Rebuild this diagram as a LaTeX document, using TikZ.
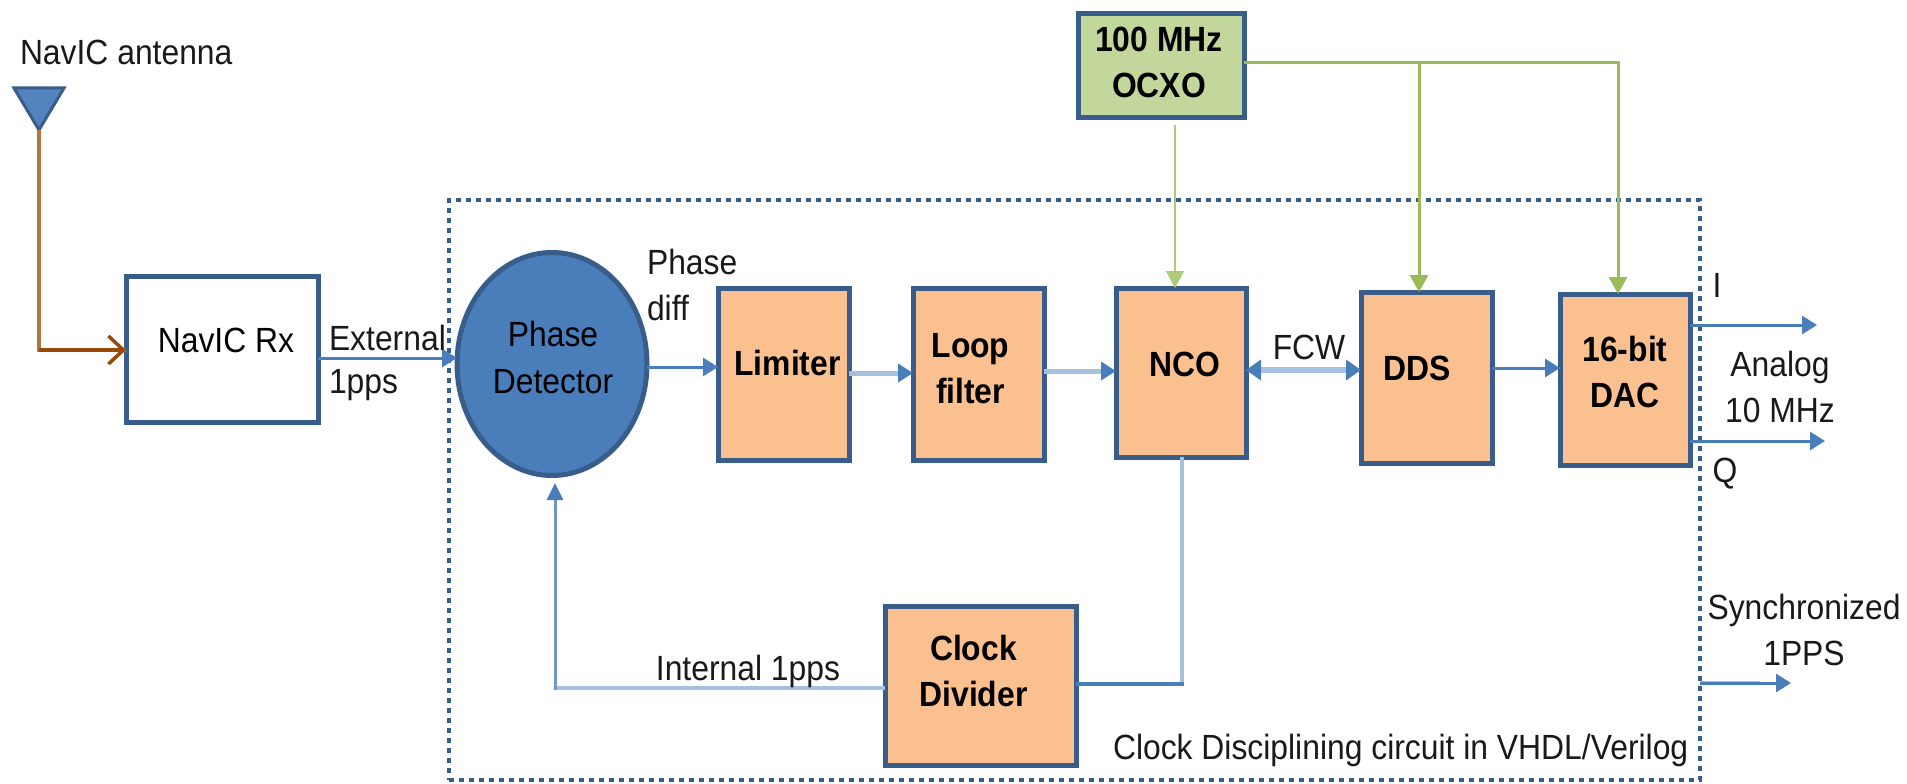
\documentclass[tikz,border=0pt]{standalone}
\usepackage{fontspec}
\setmainfont[FakeStretch=0.91]{Liberation Sans}
\usetikzlibrary{arrows.meta,shapes.geometric,positioning}
\definecolor{dk}{HTML}{385D8A}
\definecolor{mid}{HTML}{4A7EBB}
\definecolor{lt}{HTML}{A7C0DE}
\definecolor{org}{HTML}{FAC090}
\definecolor{grn}{HTML}{C3D69B}
\definecolor{gline}{HTML}{9BBB59}
\definecolor{brn}{HTML}{984807}
\tikzset{x=1pt,y=-1pt,outer sep=0pt,
 lbl/.style={font=\fontsize{35}{46}\selectfont,align=center,inner sep=0pt,text=black!90},
 blk/.style={draw=dk,line width=5pt,fill=org,font=\fontsize{35}{46}\selectfont\bfseries,inner sep=0pt},
 bl/.style={draw=mid,line width=3pt,-{Triangle[length=15pt,width=18pt]}},
 lb/.style={draw=lt,line width=5pt,-{Triangle[length=15pt,width=18pt,fill=mid,color=mid]}},
 gr/.style={draw=gline,line width=3pt,-{Triangle[length=17pt,width=18pt]}},
}
% text shifted by (dx right, dy up) from the centre of its node
\newcommand{\tx}[3]{\raisebox{\dimexpr#2-9pt\relax}[0pt][0pt]{\makebox[0pt][c]{\hspace*{#1}\hspace*{#1}\begin{tabular}{@{}c@{}}#3\end{tabular}}}}
\newcommand{\boxat}[6]{\node[#2,minimum width=#5-#3,minimum height=#6-#4,anchor=north west] (#1) at (#3,#4) }
\begin{document}
\begin{tikzpicture}
\useasboundingbox (0,0) rectangle (1907,784);
% dotted frame
\node[draw=dk,line width=3.5pt,dash pattern=on 5pt off 5pt,minimum width=1251pt,minimum height=580pt,anchor=north west,inner sep=0pt] (frame) at (449,200) {};
% antenna
\node[draw=dk,fill=mid!95!white,line width=3pt,isosceles triangle,shape border rotate=-90,isosceles triangle stretches,minimum width=50pt,minimum height=42pt,inner sep=0pt,anchor=apex] (ant) at (39,130) {};
\node[lbl,anchor=west] (antl) at (20,52) {NavIC antenna};
% blocks
\boxat{rx}{draw=dk,line width=5pt,fill=white,font=\fontsize{35}{46}\selectfont,inner sep=0pt}{126}{276}{318}{422}{\tx{4pt}{8pt}{NavIC Rx}};
\node[ellipse,draw=dk,fill=mid,line width=5pt,minimum width=190pt,minimum height=223pt,inner sep=0pt,font=\fontsize{35}{47}\selectfont] (pd) at (552,364) {\tx{1pt}{6pt}{Phase\\Detector}};
\boxat{lim}{blk}{718}{288}{849}{460}{\tx{4pt}{10pt}{Limiter}};
\boxat{loop}{blk}{913}{288}{1044}{460}{\tx{-8pt}{5pt}{Loop\\filter}};
\boxat{nco}{blk}{1116}{288}{1246}{457}{\tx{4pt}{8pt}{NCO}};
\boxat{dds}{blk}{1361}{292}{1492}{463}{\tx{-9pt}{9pt}{DDS}};
\boxat{dac}{blk}{1560}{294}{1690}{465}{\tx{0pt}{7pt}{16-bit\\DAC}};
\boxat{div}{blk}{885}{606}{1076}{765}{\tx{-7pt}{14pt}{Clock\\Divider}};
\boxat{ocxo}{blk,fill=grn}{1078}{14}{1244}{117}{\tx{-2pt}{3pt}{100 MHz\\OCXO}};
% free ends
\coordinate (antc) at (39,350);
\coordinate (iend) at (1817,325);
\coordinate (qend) at (1825,441);
\coordinate (ss) at (1700,683);
\coordinate (send) at (1791,683);
% connectors
\draw[draw=brn!75!white,line width=3.5pt,line join=miter] (ant.apex) -- (antc) -- (rx.west |- antc);
\draw[brn,line width=3.5pt,-{Straight Barb[length=15pt,width=28pt,line width=3.5pt]}] (antc) -- (rx.west |- antc);
\draw[bl] (rx.east |- 0,358) -- (pd.west |- 0,358);
\draw[bl] (pd.east |- 0,367) -- (lim.west |- 0,367);
\draw[lb] (lim.east |- 0,373) -- (loop.west |- 0,373);
\draw[lb] (loop.east |- 0,371) -- (nco.west |- 0,371);
\draw[draw=lt,line width=6pt,{Triangle[length=15pt,width=20pt,color=mid]}-{Triangle[length=15pt,width=20pt,color=mid]}] (nco.east |- 0,370) -- (dds.west |- 0,370);
\draw[bl] (dds.east |- 0,368) -- (dac.west |- 0,368);
\draw[bl] (dac.east |- iend) -- (iend);
\draw[bl] (dac.east |- qend) -- (qend);
\draw[draw=lt,line width=4pt] (ss) -- ++(60,0);
\draw[bl] (ss) -- (send);
\draw[draw=lt,line width=4pt] (nco.south -| 1182,0) -- (1182,684);
\draw[draw=mid,line width=3.5pt] (div.east |- 0,684) -- (1184,684);
\draw[draw=lt,line width=4.5pt] (div.west |- 0,688) -- (555,688);
\draw[draw=mid!80!white,line width=3pt,-{Triangle[length=17pt,width=16pt,color=mid]}] (555,689.5) -- (555,483);
\draw[gr,line width=2pt,draw=gline!80!white] (1175,125) -- (nco.north -| 1175,0);
\draw[gr] (ocxo.east |- 0,63) -- (1618,63) -- (dac.north -| 1618,0);
\draw[gr] (1419,63) -- (dds.north -| 1419,0);
% labels
\node[lbl,anchor=west] (ext) at (329,338) {External};
\node[lbl,anchor=west] (pps) at (329,385) {1pps};
\node[lbl,anchor=west,align=left] (ph) at (647,285) {Phase\\diff};
\node[lbl] (fcw) at (1309,347) {FCW};
\node[lbl] (il) at (1717,285) {I};
\node[lbl] (al) at (1780,387) {Analog\\10 MHz};
\node[lbl] (ql) at (1725,474) {Q};
\node[lbl] (sy) at (1804,630) {Synchronized\\1PPS};
\node[lbl] (int) at (748,671) {Internal 1pps};
\node[lbl,anchor=west] (cl) at (1113,750) {Clock Disciplining circuit in VHDL/Verilog};
\end{tikzpicture}
\end{document}
